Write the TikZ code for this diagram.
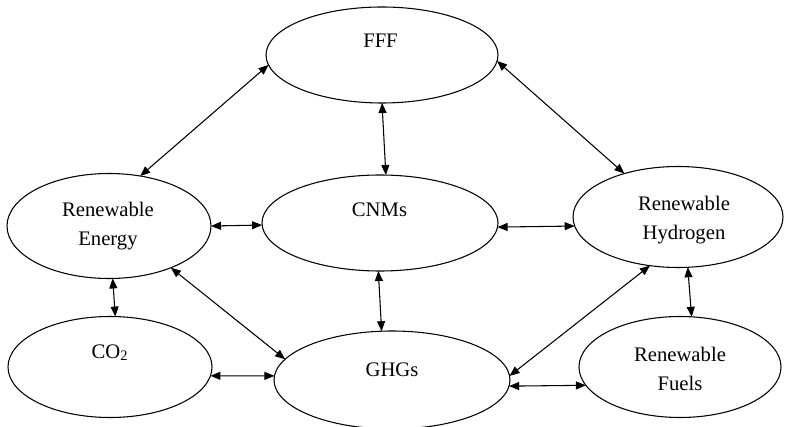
\documentclass[tikz,border=0pt]{standalone}
\usepackage{fontspec}
\setmainfont{Liberation Serif}
\usetikzlibrary{shapes.geometric,arrows.meta}
\tikzset{
  el/.style={ellipse, draw, line width=0.8pt, inner sep=0pt, outer sep=0pt},
  txt/.style={anchor=base, align=center, inner sep=0pt, font=\fontsize{15.5}{21.75}\selectfont},
  arr/.style={line width=0.8pt, {Triangle[length=7.5pt,width=6pt]}-{Triangle[length=7.5pt,width=6pt]}}
}
\begin{document}
\begin{tikzpicture}[x=0.75pt,y=-0.75pt]
\useasboundingbox (0,0) rectangle (788,427);
% ellipses
\node[el, minimum width=174pt, minimum height=72pt] (fff) at (382,55) {};
\node[el, minimum width=153pt, minimum height=78.75pt] (re) at (109,226) {};
\node[el, minimum width=177pt, minimum height=72pt] (cnm) at (380,223) {};
\node[el, minimum width=157.5pt, minimum height=75.75pt] (rh) at (678,217) {};
\node[el, minimum width=153pt, minimum height=75.75pt] (co2) at (110,367) {};
\node[el, minimum width=177pt, minimum height=73.5pt] (ghg) at (392,380) {};
\node[el, minimum width=151.5pt, minimum height=75.75pt] (rf) at (680,367) {};
% texts (base anchor = baseline of last line)
\node[txt] (tfff) at (380.5,48) {FFF};
\node[txt] (tre) at (108,246) {Renewable\\Energy};
\node[txt] (tcnm) at (379.5,217) {CNMs};
\node[txt] (trh) at (684,240) {Renewable\\Hydrogen};
\node[txt] (tco2) at (110,358) {CO\textsubscript{2}};
\node[txt] (tghg) at (392,376) {GHGs};
\node[txt] (trf) at (680,390) {Renewable\\Fuels};
% connectors
\draw[arr] (re.58) -- (fff.185);
\draw[arr] (fff.270) -- (cnm.83);
\draw[arr] (fff.357.5) -- (rh.141);
\draw[arr] (re.0) -- (cnm.181.5);
\draw[arr] (cnm.358.5) -- (rh.185);
\draw[arr] (re.274) -- (co2.84);
\draw[arr] (re.326) -- (ghg.169);
\draw[arr] (cnm.268) -- (ghg.102);
\draw[arr] (co2.355) -- (ghg.178);
\draw[arr] (rh.240) -- (ghg.2);
\draw[arr] (rh.281) -- (rf.77.6);
\draw[arr] (ghg.357) -- (rf.191.5);
\end{tikzpicture}
\end{document}
